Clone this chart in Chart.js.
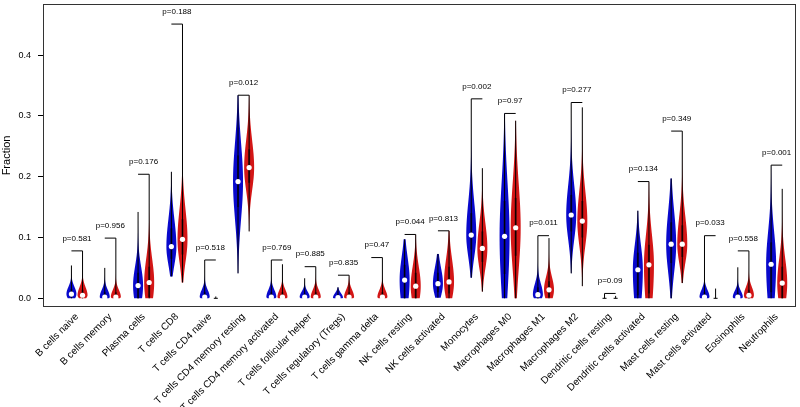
<!DOCTYPE html>
<html>
<head>
<meta charset="utf-8">
<script src="https://cdn.jsdelivr.net/npm/chart.js@4.4.1/dist/chart.umd.min.js"></script>
<style>
  html, body { margin: 0; padding: 0; background: #fff; }
  #wrap { width: 800px; height: 407px; }
</style>
</head>
<body>
<div id="wrap"><canvas id="violin"></canvas></div>
<script>
// cell types (x categories)
const cats = [
    'B cells naive', 'B cells memory', 'Plasma cells', 'T cells CD8', 'T cells CD4 naive',
    'T cells CD4 memory resting', 'T cells CD4 memory activated', 'T cells follicular helper',
    'T cells regulatory (Tregs)', 'T cells gamma delta', 'NK cells resting', 'NK cells activated',
    'Monocytes', 'Macrophages M0', 'Macrophages M1', 'Macrophages M2', 'Dendritic cells resting',
    'Dendritic cells activated', 'Mast cells resting', 'Mast cells activated', 'Eosinophils', 'Neutrophils'
];
const pVals = ['0.581','0.956','0.176','0.188','0.518','0.012','0.769','0.885','0.835','0.47','0.044',
               '0.813','0.002','0.97','0.011','0.277','0.09','0.134','0.349','0.033','0.558','0.001'];

// blue group summary (fraction)
const blueMin = [0, 0, 0, 0.036, 0, 0.041, 0, 0, 0, 0, 0, 0.001, 0.034, 0, 0, 0.041, 0, 0, 0, 0, 0, 0];
const blueQ1  = [0.001, 0, 0, 0.065, 0, 0.150, 0, 0, 0, 0, 0, 0.010, 0.080, 0.040, 0, 0.110, 0, 0.005, 0.058, 0, 0, 0.010];
const blueMed = [0.007, 0.002, 0.021, 0.085, 0.002, 0.192, 0.002, 0.002, 0.001, 0, 0.030, 0.024, 0.104, 0.102, 0.006, 0.137, 0, 0.047, 0.089, 0.002, 0.002, 0.056];
const blueQ3  = [0.015, 0.010, 0.042, 0.115, 0.010, 0.235, 0.010, 0.008, 0.006, 0, 0.055, 0.042, 0.140, 0.160, 0.018, 0.170, 0, 0.075, 0.125, 0.010, 0.009, 0.092];
const blueMax = [0.054, 0.050, 0.142, 0.208, 0.063, 0.334, 0.063, 0.033, 0.018, 0, 0.097, 0.073, 0.328, 0.304, 0.103, 0.322, 0.008, 0.144, 0.197, 0.103, 0.051, 0.219];

// red group summary (fraction)
const redMin = [0, 0, 0, 0.026, 0, 0.110, 0, 0, 0, 0, 0, 0, 0.011, 0, 0, 0.020, 0, 0, 0.025, 0, 0, 0];
const redQ1  = [0.001, 0, 0.002, 0.072, 0, 0.190, 0, 0, 0, 0, 0, 0.008, 0.060, 0.070, 0.002, 0.100, 0, 0.008, 0.068, 0, 0, 0];
const redMed = [0.005, 0.002, 0.026, 0.097, 0, 0.215, 0.002, 0.002, 0.002, 0.002, 0.020, 0.027, 0.082, 0.116, 0.014, 0.127, 0, 0.055, 0.089, 0, 0.005, 0.025];
const redQ3  = [0.014, 0.010, 0.052, 0.130, 0, 0.245, 0.010, 0.010, 0.010, 0.010, 0.042, 0.052, 0.110, 0.165, 0.028, 0.160, 0, 0.088, 0.120, 0, 0.014, 0.052];
const redMax = [0.078, 0.099, 0.204, 0.451, 0.003, 0.334, 0.056, 0.052, 0.038, 0.067, 0.105, 0.111, 0.214, 0.292, 0.099, 0.314, 0.004, 0.192, 0.275, 0.016, 0.078, 0.180];

const BLUE = '#0909cc';
const RED = '#d31616';
const SHIFT = 1 / 6;   // offset of each violin from the category centre
const HALF = 0.15;     // max half width of a violin, in category units
const FONT = '"Liberation Sans", Arial, sans-serif';

function dens(v, q1, med, q3) {
    let sl = Math.max((med - q1) / 0.674, 0.0008);
    let sh = Math.max((q3 - med) / 0.674, 0.0008);
    let z = v < med ? (med - v) / sl : (v - med) / sh;
    return Math.exp(-0.5 * z * z);
}

function drawViolin(chart, xv, lo, q1, med, q3, hi, col) {
    const ctx = chart.ctx, xs = chart.scales.x, ys = chart.scales.y;
    const cx = xs.getPixelForValue(xv);
    const w = (xs.getPixelForValue(1) - xs.getPixelForValue(0)) * HALF;
    if (hi <= lo) return;
    ctx.save();
    if (q3 > q1) {
        let n = 80, left = [], right = [];
        for (let k = 0; k <= n; k++) {
            let v = lo + (hi - lo) * k / n;
            let hw = w * dens(v, q1, med, q3);
            left.push([cx - hw, ys.getPixelForValue(v)]);
            right.push([cx + hw, ys.getPixelForValue(v)]);
        }
        ctx.beginPath();
        ctx.moveTo(left[0][0], left[0][1]);
        left.forEach(p => ctx.lineTo(p[0], p[1]));
        for (let k = right.length - 1; k >= 0; k--) ctx.lineTo(right[k][0], right[k][1]);
        ctx.closePath();
        ctx.fillStyle = col;
        ctx.fill();
    }
    // whisker
    ctx.strokeStyle = '#000';
    ctx.lineWidth = 1;
    ctx.beginPath();
    ctx.moveTo(cx, ys.getPixelForValue(lo));
    ctx.lineTo(cx, ys.getPixelForValue(hi));
    ctx.stroke();
    if (q3 > q1) {
        // box
        ctx.fillStyle = 'rgba(0,0,0,0.55)';
        let yt = ys.getPixelForValue(q3), yb = ys.getPixelForValue(q1);
        ctx.fillRect(cx - 1, yt, 2, yb - yt);
    } else {
        ctx.beginPath();
        ctx.moveTo(cx - 2, ys.getPixelForValue(med));
        ctx.lineTo(cx + 2, ys.getPixelForValue(med));
        ctx.stroke();
    }
    ctx.restore();
}

const violinPlugin = {
    id: 'violins',
    beforeDatasetsDraw(chart) {
        cats.forEach((c, i) => {
            drawViolin(chart, i - SHIFT, blueMin[i], blueQ1[i], blueMed[i], blueQ3[i], blueMax[i], BLUE);
            drawViolin(chart, i + SHIFT, redMin[i], redQ1[i], redMed[i], redQ3[i], redMax[i], RED);
        });
    },
    afterDatasetsDraw(chart) {
        const ctx = chart.ctx, xs = chart.scales.x, ys = chart.scales.y;
        ctx.save();
        ctx.strokeStyle = '#000';
        ctx.lineWidth = 1;
        ctx.fillStyle = '#000';
        ctx.font = '8px ' + FONT;
        ctx.textAlign = 'center';
        ctx.textBaseline = 'middle';
        cats.forEach((c, i) => {
            let top = Math.max(blueMax[i], redMax[i]);
            let y = ys.getPixelForValue(top);
            ctx.beginPath();
            ctx.moveTo(xs.getPixelForValue(i - SHIFT), y);
            ctx.lineTo(xs.getPixelForValue(i + SHIFT), y);
            ctx.stroke();
            ctx.fillText('p=' + pVals[i], xs.getPixelForValue(i), y - 12.5);
        });
        // frame
        const a = chart.chartArea;
        ctx.strokeStyle = '#333';
        ctx.strokeRect(a.left + 0.5, a.top + 0.5, a.right - a.left - 1, a.bottom - a.top - 1);
        ctx.restore();
    }
};

const blueDots = blueMed.map((m, i) => ({ x: i - SHIFT, y: m })).filter((p, i) => blueQ3[i] > blueQ1[i]);
const redDots = redMed.map((m, i) => ({ x: i + SHIFT, y: m })).filter((p, i) => redQ3[i] > redQ1[i]);

const config = {
    type: 'scatter',
    data: {
        datasets: [
            { label: 'blue', data: blueDots, pointRadius: 2.6, backgroundColor: '#fff', borderWidth: 0 },
            { label: 'red', data: redDots, pointRadius: 2.6, backgroundColor: '#fff', borderWidth: 0 }
        ]
    },
    options: {
        responsive: false,
        animation: false,
        events: [],
        layout: { padding: { top: 1, right: 3, left: 0, bottom: 0 } },
        plugins: { legend: { display: false }, tooltip: { enabled: false } },
        scales: {
            x: {
                type: 'linear',
                min: -1.02,
                max: 21.58,
                grid: { display: false },
                border: { display: false },
                afterBuildTicks: s => { s.ticks = cats.map((c, i) => ({ value: i })); },
                afterFit: s => { s.height = 100; s.paddingLeft = 0; s.paddingRight = 0; },
                ticks: {
                    autoSkip: false,
                    maxRotation: 45,
                    minRotation: 45,
                    padding: -4,
                    color: '#000',
                    font: { family: FONT, size: 10 },
                    callback: v => cats[v]
                }
            },
            y: {
                min: -0.0143,
                max: 0.484,
                grid: { drawOnChartArea: false, drawTicks: true, tickLength: 5, color: '#000' },
                border: { display: false },
                afterBuildTicks: s => { s.ticks = [0, 0.1, 0.2, 0.3, 0.4].map(v => ({ value: v })); },
                afterFit: s => { s.width = 43; s.paddingTop = 0; s.paddingBottom = 0; },
                ticks: {
                    padding: 7,
                    color: '#000',
                    font: { family: FONT, size: 9 },
                    callback: v => v.toFixed(1)
                },
                title: {
                    display: true,
                    text: 'Fraction',
                    color: '#000',
                    padding: 0,
                    font: { family: FONT, size: 11 }
                }
            }
        }
    },
    plugins: [violinPlugin]
};

const canvas = document.getElementById('violin');
canvas.width = 800;
canvas.height = 407;
new Chart(canvas, config);
</script>
</body>
</html>
